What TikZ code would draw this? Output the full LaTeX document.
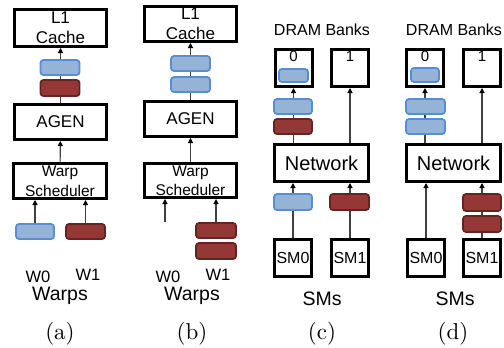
\documentclass[tikz,border=0pt]{standalone}
\usepackage{fontspec}
\setsansfont{Liberation Sans}
\newfontfamily\capfont{lmroman10-regular}[Extension=.otf]
\usetikzlibrary{arrows.meta}
\definecolor{pktblue}{RGB}{149,179,215}
\definecolor{pktblueline}{RGB}{85,142,213}
\definecolor{pktred}{RGB}{149,55,53}
\definecolor{pktredline}{RGB}{99,37,35}
\definecolor{wirecol}{RGB}{64,64,64}
\newcommand{\fs}[1]{\sffamily\fontsize{#1}{#1}\selectfont}

\begin{document}
\begin{tikzpicture}[x=1pt,y=-1pt,
  unit/.style={draw,line width=3pt,inner sep=0pt,align=center,font=\fs{17}},
  bank/.style={draw,line width=3pt,inner sep=0pt,minimum width=37pt,minimum height=37pt},
  bpkt/.style={draw=pktblueline,fill=pktblue,line width=1.8pt,rounded corners=3pt,inner sep=0pt},
  rpkt/.style={draw=pktredline,fill=pktred,line width=1.8pt,rounded corners=3pt,inner sep=0pt},
  wire/.style={draw=wirecol,line width=1.1pt,-{Triangle[length=5pt,width=5pt,black]}},
  lbl/.style={inner sep=0pt,anchor=base,font=\fs{16.5}},
  subcap/.style={inner sep=0pt,font=\capfont\fontsize{23}{23}\selectfont}]
\useasboundingbox (0,0) rectangle (504,348);

% (a) one packet per warp
\node[unit,minimum width=92pt,minimum height=37pt] (a1cache) at (60.5,28) {L1\\[3pt]Cache};
\node[unit,minimum width=92pt,minimum height=35pt] (aagen) at (60.5,122) {AGEN};
\node[unit,minimum width=93pt,minimum height=35pt,font=\fs{15.5}] (asched) at (60,181) {Warp\\[4pt]Scheduler};
\draw[wire] (aagen) -- (a1cache);
\draw[wire] (asched) -- (aagen);
\node[bpkt,minimum width=39pt,minimum height=15pt] at (60,67.5) {};
\node[rpkt,minimum width=39pt,minimum height=16pt] at (60,88) {};
\node[bpkt,minimum width=38pt,minimum height=15pt] (aw0) at (35,231.5) {};
\node[rpkt,minimum width=39pt,minimum height=15pt] (aw1) at (85.5,231.5) {};
\draw[wire] (aw0) -- (aw0 |- asched.south);
\draw[wire] (aw1) -- (aw1 |- asched.south);
\node[lbl] at (38,282) {W0};
\node[lbl] at (88,280) {W1};
\node[lbl,font=\fs{19.5}] at (60,300) {Warps};
\node[subcap] at (60,334) {(a)};

% (b) both packets from one warp
\node[unit,minimum width=92pt,minimum height=35pt] (b1cache) at (190.5,24) {L1\\[3pt]Cache};
\node[unit,minimum width=92pt,minimum height=35pt] (bagen) at (190.5,119) {AGEN};
\node[unit,minimum width=92pt,minimum height=34pt,font=\fs{15.5}] (bsched) at (190.5,180.5) {Warp\\[4pt]Scheduler};
\draw[wire] (bagen) -- (b1cache);
\draw[wire] (bsched) -- (bagen);
\node[bpkt,minimum width=39pt,minimum height=15pt] at (190.5,63.5) {};
\node[bpkt,minimum width=39pt,minimum height=15pt] at (190.5,84.5) {};
\coordinate (bw0) at (165,222);
\draw[wire] (bw0) -- (bw0 |- bsched.south);
\node[rpkt,minimum width=40pt,minimum height=15pt] (bw1) at (216,230.5) {};
\node[rpkt,minimum width=40pt,minimum height=16pt] at (216,251) {};
\draw[wire] (bw1) -- (bw1 |- bsched.south);
\node[lbl] at (168,282) {W0};
\node[lbl] at (218,280) {W1};
\node[lbl,font=\fs{19.5}] at (192,300) {Warps};
\node[subcap] at (192,334) {(b)};

% (c) one packet per SM
\node[lbl,font=\fs{16}] at (322,35) {DRAM Banks};
\node[bank,label={[anchor=north,inner sep=2.5pt,font=\fs{15}]north:0}] (cbank0) at (293.5,68) {};
\node[bank,label={[anchor=north,inner sep=2.5pt,font=\fs{15}]north:1}] (cbank1) at (350,68) {};
\node[unit,minimum width=94pt,minimum height=37pt,font=\fs{20}] (cnet) at (321.5,163) {Network};
\node[bank] (csm0) at (293,257.5) {\fs{16}SM0};
\node[bank] (csm1) at (350,257.5) {\fs{16}SM1};
\draw[wire] (cnet.north -| cbank0) -- (cbank0);
\draw[wire] (cnet.north -| cbank1) -- (cbank1);
\draw[wire] (csm0) -- (csm0 |- cnet.south);
\draw[wire] (csm1) -- (csm1 |- cnet.south);
\node[bpkt,minimum width=29pt,minimum height=13pt] at (293.5,75.5) {};
\node[bpkt,minimum width=38pt,minimum height=15pt] at (293,106.5) {};
\node[rpkt,minimum width=38pt,minimum height=15pt] at (293,126.5) {};
\node[bpkt,minimum width=38pt,minimum height=16pt] at (293,202) {};
\node[rpkt,minimum width=39pt,minimum height=16pt] at (349.5,202) {};
\node[lbl,font=\fs{19.5}] at (322,305) {SMs};
\node[subcap] at (322,334) {(c)};

% (d) both packets from one SM
\node[lbl,font=\fs{16}] at (454,35) {DRAM Banks};
\node[bank,label={[anchor=north,inner sep=2.5pt,font=\fs{15}]north:0}] (dbank0) at (425,68) {};
\node[bank,label={[anchor=north,inner sep=2.5pt,font=\fs{15}]north:1}] (dbank1) at (482,68) {};
\node[unit,minimum width=94pt,minimum height=37pt,font=\fs{20}] (dnet) at (453.5,163) {Network};
\node[bank] (dsm0) at (426,257.5) {\fs{16}SM0};
\node[bank] (dsm1) at (482,257.5) {\fs{16}SM1};
\draw[wire] (dnet.north -| dbank0) -- (dbank0);
\draw[wire] (dnet.north -| dbank1) -- (dbank1);
\draw[wire] (dsm0) -- (dsm0 |- dnet.south);
\draw[wire] (dsm1) -- (dsm1 |- dnet.south);
\node[bpkt,minimum width=28pt,minimum height=14pt] at (425,75) {};
\node[bpkt,minimum width=39pt,minimum height=15pt] at (425.5,106.5) {};
\node[bpkt,minimum width=39pt,minimum height=15pt] at (425.5,126.5) {};
\node[rpkt,minimum width=38pt,minimum height=17pt] at (482,202.5) {};
\node[rpkt,minimum width=38pt,minimum height=16pt] at (482,224) {};
\node[lbl,font=\fs{19.5}] at (455,305) {SMs};
\node[subcap] at (453,334) {(d)};
\end{tikzpicture}
\end{document}
